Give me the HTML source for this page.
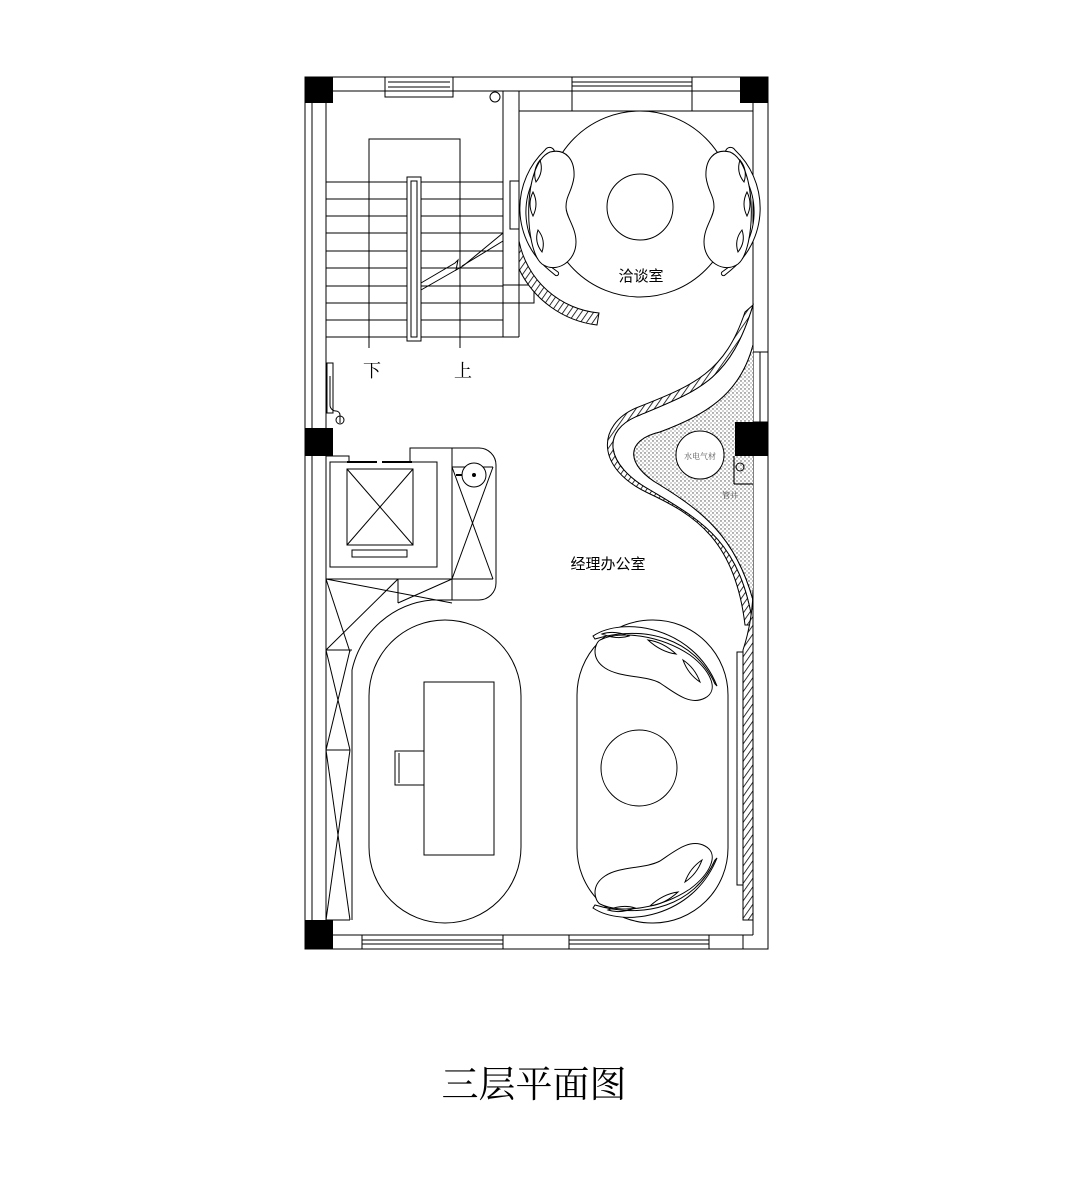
<!DOCTYPE html>
<html><head><meta charset="utf-8"><style>
html,body{margin:0;padding:0;background:#fff}
svg{display:block}
</style></head><body>
<svg width="1080" height="1177" viewBox="0 0 1080 1177" xmlns="http://www.w3.org/2000/svg">
<defs>
<pattern id="hat" width="5" height="5" patternUnits="userSpaceOnUse" patternTransform="rotate(35)">
<rect width="5" height="5" fill="#fff"/><line x1="0" y1="0" x2="0" y2="5" stroke="#000" stroke-width="1.6"/>
</pattern>
<pattern id="dots" width="4" height="4" patternUnits="userSpaceOnUse">
<rect width="4" height="4" fill="#fff"/><circle cx="1" cy="1" r="0.7" fill="#444"/><circle cx="3" cy="3" r="0.6" fill="#666"/>
</pattern>
</defs>
<g fill="none" stroke="#000" stroke-width="1">
<!-- outer walls -->
<rect x="305" y="77" width="463" height="872"/>
<line x1="312" y1="91" x2="312" y2="935"/>
<line x1="326" y1="103" x2="326" y2="920"/>
<line x1="312" y1="91" x2="753" y2="91"/>
<line x1="753" y1="91" x2="753" y2="935"/>
<line x1="312" y1="935" x2="753" y2="935"/>
<!-- top windows -->
<rect x="385" y="77" width="68" height="20"/>
<line x1="388" y1="82" x2="450" y2="82"/><line x1="388" y1="87" x2="450" y2="87"/>
<rect x="572" y="77" width="120" height="14"/>
<line x1="572" y1="82" x2="692" y2="82"/><line x1="572" y1="86" x2="692" y2="86"/>
<line x1="572" y1="91" x2="572" y2="111"/><line x1="692" y1="91" x2="692" y2="111"/>
<!-- bottom windows -->
<rect x="362" y="935" width="141" height="14"/>
<line x1="362" y1="940" x2="503" y2="940"/><line x1="362" y1="944" x2="503" y2="944"/>
<rect x="569" y="935" width="140" height="14"/>
<line x1="569" y1="940" x2="709" y2="940"/><line x1="569" y1="944" x2="709" y2="944"/>
<line x1="743" y1="935" x2="743" y2="949"/>
<!-- right side window -->
<rect x="753" y="352" width="15" height="70"/><line x1="760" y1="352" x2="760" y2="422"/>
<!-- stair room partition -->
<line x1="503" y1="91" x2="503" y2="337"/>
<line x1="519" y1="91" x2="519" y2="337"/>
<line x1="503" y1="337" x2="519" y2="337"/>
<line x1="519" y1="111" x2="753" y2="111"/>
<rect x="510" y="181" width="9" height="48"/>
<rect x="503" y="285" width="31" height="18"/>
<circle cx="495" cy="97" r="5"/>
<!-- stairs -->
<path d="M369 348 V139 H460 V348"/>
<g>
<line x1="326" y1="182" x2="503" y2="182"/><line x1="326" y1="199" x2="503" y2="199"/>
<line x1="326" y1="216" x2="503" y2="216"/><line x1="326" y1="233" x2="503" y2="233"/>
<line x1="326" y1="251" x2="503" y2="251"/><line x1="326" y1="268" x2="503" y2="268"/>
<line x1="326" y1="286" x2="503" y2="286"/><line x1="326" y1="303" x2="503" y2="303"/>
<line x1="326" y1="320" x2="503" y2="320"/><line x1="326" y1="337" x2="503" y2="337"/>
</g>
<rect x="407" y="177" width="14" height="164" fill="#fff"/>
<rect x="411" y="181" width="6" height="156"/>
<path d="M421 283 L455 263 L458 260 L456 270 L463 266 L503 233" />
<path d="M421 290 L456 270 M462 266 L503 241"/>
<!-- left small door -->
<rect x="327" y="363" width="6" height="50"/>
<path d="M330 376 V405 a6 6 0 0 0 6 6 h0 a4 4 0 0 1 4 4 v8"/>
<circle cx="340" cy="420" r="4"/>
<!-- elevator block -->
<path d="M326 456 H349 V462 H330 V567 H437 V462 H410 V448 H479 a17 17 0 0 1 17 17 V583 a17 17 0 0 1 -17 17 H432 a90 90 0 0 0 -80 70 V920"/>
<rect x="347" y="469" width="66" height="76"/>
<line x1="347" y1="469" x2="413" y2="545"/><line x1="413" y1="469" x2="347" y2="545"/>
<rect x="352" y="550" width="55" height="7"/>
<line x1="347" y1="462" x2="377" y2="462" stroke-width="2"/><line x1="382" y1="462" x2="412" y2="462" stroke-width="2"/>
<line x1="452" y1="448" x2="452" y2="600"/>
<line x1="452" y1="467" x2="493" y2="467"/><line x1="452" y1="579" x2="493" y2="579"/>
<line x1="452" y1="467" x2="493" y2="579"/><line x1="493" y1="467" x2="452" y2="579"/>
<circle cx="474" cy="475" r="12" fill="#fff"/><circle cx="474" cy="475" r="1.5" fill="#000"/>
<line x1="456" y1="475" x2="462" y2="475" stroke-width="2"/>
<line x1="326" y1="579" x2="452" y2="579"/>
<line x1="398" y1="579" x2="398" y2="603"/>
<line x1="326" y1="579" x2="452" y2="603"/><line x1="452" y1="579" x2="398" y2="603"/>
<line x1="398" y1="579" x2="326" y2="650"/><line x1="326" y1="650" x2="352" y2="650"/>
<line x1="326" y1="579" x2="350" y2="652"/>
<line x1="326" y1="650" x2="350" y2="750"/><line x1="350" y1="650" x2="326" y2="750"/>
<line x1="326" y1="750" x2="350" y2="750"/>
<line x1="326" y1="750" x2="350" y2="920"/><line x1="350" y1="750" x2="326" y2="920"/>
<line x1="326" y1="920" x2="350" y2="920"/>
<!-- meeting room -->
<ellipse cx="640" cy="204" rx="93" ry="93" fill="#fff"/>
<circle cx="640" cy="207" r="33"/>
<path d="M545 150 a80 80 0 0 0 4 120 l6 5 a2 2 0 0 0 3 -3 a72 72 0 0 1 -4 -117 a3 3 0 0 0 -9 -5z" fill="#fff"/>
<path d="M550 152 c16 -4 25 8 24 25 c-2 15 -8 18 -8 30 c0 10 10 20 10 35 c0 20 -20 32 -34 22 c-18 -14 -20 -100 8 -112z" fill="#fff"/>
<path d="M735 150 a80 80 0 0 1 -4 120 l-6 5 a2 2 0 0 1 -3 -3 a72 72 0 0 0 4 -117 a3 3 0 0 1 9 -5z" fill="#fff"/>
<path d="M730 152 c-16 -4 -25 8 -24 25 c2 15 8 18 8 30 c0 10 -10 20 -10 35 c0 20 20 32 34 22 c18 -14 20 -100 -8 -112z" fill="#fff"/>
<path d="M540 160 q-8 10 -4 22 q8 -10 4 -22z M533 192 q-6 12 0 24 q6 -12 0 -24z M538 230 q-4 12 4 22 q4 -12 -4 -22z"/>
<path d="M740 160 q8 10 4 22 q-8 -10 -4 -22z M747 192 q6 12 0 24 q-6 -12 0 -24z M742 230 q4 12 -4 22 q-4 -12 4 -22z"/>
<path d="M519 241 a90 90 0 0 0 80 72 l-2 12 a100 100 0 0 1 -78 -56z" fill="url(#hat)"/>
<!-- S curved wall -->
<path d="M753 305 C730 380 700 390 640 415 C600 430 605 465 650 490 C700 520 740 540 753 625 L753 600 C735 535 700 510 660 485 C625 465 625 440 660 432 C705 415 740 395 753 345 Z" fill="#fff"/>
<path d="M753 345 C740 395 705 415 660 432 C625 440 625 465 660 485 C700 510 735 535 753 600 Z" fill="url(#dots)" stroke="none"/>
<path d="M753 305 C730 380 700 390 640 415 C600 430 605 465 650 490 C700 520 740 540 753 625 L745 625 C735 540 695 515 648 493 C595 468 597 425 636 408 C695 385 725 372 745 312 Z" fill="url(#hat)"/>
<path d="M753 345 C740 395 705 415 660 432 C625 440 625 465 660 485 C700 510 735 535 753 600"/>
<circle cx="700" cy="455" r="24" fill="#fff"/>
<text x="700" y="459" font-size="8" text-anchor="middle" stroke="none" fill="#555" font-family="Liberation Serif,Noto Serif CJK SC,serif">水电气材</text>
<text x="730" y="498" font-size="8" text-anchor="middle" stroke="none" fill="#555" font-family="Liberation Serif,Noto Serif CJK SC,serif">管井</text>
<circle cx="740" cy="467" r="4"/>
<line x1="734" y1="456" x2="734" y2="484"/><line x1="734" y1="484" x2="753" y2="484"/>
<!-- right wall bottom hatched -->
<path d="M753 590 a200 200 0 0 1 -10 60 V920 H753Z" fill="url(#hat)"/>
<rect x="737" y="652" width="6" height="233"/>
<!-- desk oval -->
<rect x="369" y="620" width="152" height="303" rx="76" ry="76"/>
<rect x="424" y="682" width="70" height="173"/>
<rect x="395" y="751" width="29" height="34"/><line x1="399" y1="753" x2="399" y2="783"/>
<!-- sofa oval -->
<rect x="577" y="620" width="151" height="303" rx="75" ry="75"/>
<circle cx="639" cy="768" r="38"/>
<path d="M593 636 c30 -20 100 -10 124 50 l-2 -2 c-20 -45 -70 -60 -120 -45z" fill="#fff"/>
<path d="M600 640 c20 -10 60 -5 90 15 c20 15 30 35 15 43 c-15 8 -30 -5 -45 -15 c-15 -8 -40 -5 -55 -15 c-15 -10 -10 -25 -5 -28z" fill="#fff"/>
<path d="M602 634 q12 -4 27 2 q-12 4 -27 -2z M648 640 q15 2 28 14 q-15 -2 -28 -14z M683 660 q12 8 17 22 q-12 -8 -17 -22z"/>
<path d="M593 908 c30 20 100 10 124 -50 l-2 2 c-20 45 -70 60 -120 45z" fill="#fff"/>
<path d="M600 904 c20 10 60 5 90 -15 c20 -15 30 -35 15 -43 c-15 -8 -30 5 -45 15 c-15 8 -40 5 -55 15 c-15 10 -10 25 -5 28z" fill="#fff"/>
<path d="M608 910 q12 4 27 -2 q-12 -4 -27 2z M650 906 q15 -2 28 -14 q-15 2 -28 14z M685 882 q12 -8 17 -22 q-12 8 -17 22z"/>
</g>
<!-- black columns -->
<g fill="#000">
<rect x="305" y="77" width="28" height="26"/>
<rect x="740" y="77" width="28" height="26"/>
<rect x="305" y="428" width="28" height="28"/>
<rect x="735" y="422" width="33" height="34"/>
<rect x="305" y="920" width="28" height="29"/>
</g>
<g font-family="Liberation Serif,'Noto Serif CJK SC',serif" fill="#000">
<text x="372" y="377" font-size="18" text-anchor="middle">下</text>
<text x="463" y="377" font-size="18" text-anchor="middle">上</text>
<text x="641" y="281" font-size="15" text-anchor="middle" font-family="'Noto Sans CJK SC',sans-serif">洽谈室</text>
<text x="608" y="569" font-size="15" text-anchor="middle" font-family="'Noto Sans CJK SC',sans-serif">经理办公室</text>
<text x="534" y="1097" font-size="37" text-anchor="middle">三层平面图</text>
</g>
</svg>
</body></html>
